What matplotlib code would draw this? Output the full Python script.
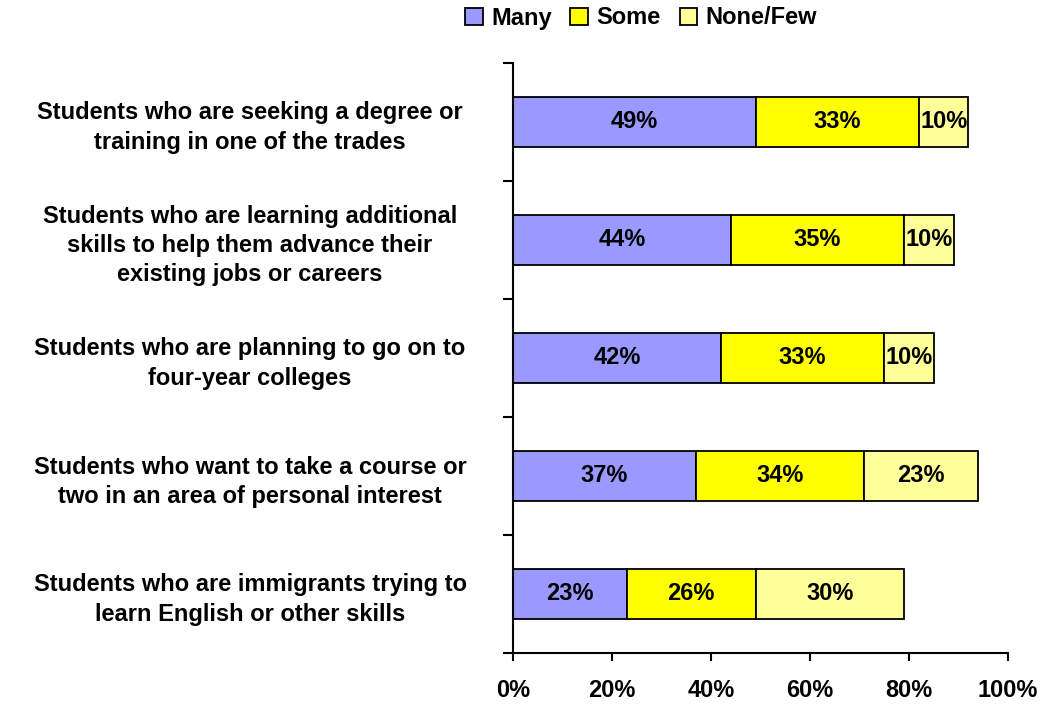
import matplotlib
matplotlib.use("Agg")
import matplotlib.pyplot as plt
from matplotlib.ticker import FuncFormatter, MultipleLocator

plt.rcParams['font.family'] = ['Liberation Sans', 'DejaVu Sans']
plt.rcParams['font.weight'] = 'bold'

categories = [
    "Students who are seeking a degree or\ntraining in one of the trades",
    "Students who are learning additional\nskills to help them advance their\nexisting jobs or careers",
    "Students who are planning to go on to\nfour-year colleges",
    "Students who want to take a course or\ntwo in an area of personal interest",
    "Students who are immigrants trying to\nlearn English or other skills",
]
many = [49, 44, 42, 37, 23]
some = [33, 35, 33, 34, 26]
none_few = [10, 10, 10, 23, 30]

series = [("Many", many, "#9999FF"), ("Some", some, "#FFFF00"), ("None/Few", none_few, "#FFFF99")]

FS = 17

fig = plt.figure(figsize=(10.44, 7.07), dpi=100)
ax = fig.add_axes([513 / 1044, 1 - 653 / 707, 495 / 1044, 590 / 707])

n = len(categories)
ypos = list(range(n))
left = [0] * n
for name, vals, color in series:
    ax.barh(ypos, vals, left=left, height=0.42, color=color, edgecolor="black",
            linewidth=1.3, label=name)
    for y, l, v in zip(ypos, left, vals):
        ax.text(l + v / 2, y, f"{v}%", ha="center", va="center",
                fontsize=FS, fontweight="bold")
    left = [a + b for a, b in zip(left, vals)]

ax.set_xlim(0, 100)
ax.set_ylim(n - 0.5, -0.5)
ax.xaxis.set_major_locator(MultipleLocator(20))
ax.xaxis.set_major_formatter(FuncFormatter(lambda v, p: f"{int(v)}%"))
ax.set_yticks(ypos)
ax.set_yticklabels(categories, fontsize=FS, fontweight="bold", ha="center",
                   linespacing=1.35)
ax.set_yticks([i - 0.5 for i in range(n + 1)], minor=True)
ax.tick_params(axis="y", which="major", length=0, pad=(513 - 250) * 0.72)
ax.tick_params(axis="y", which="minor", length=7, width=1.5, direction="out")
ax.tick_params(axis="x", length=6, width=1.5, direction="out", labelsize=FS, pad=13)
for lab in ax.get_xticklabels():
    lab.set_fontweight("bold")

for s in ["top", "right"]:
    ax.spines[s].set_visible(False)
for s in ["left", "bottom"]:
    ax.spines[s].set_linewidth(1.5)

leg = fig.legend(loc="center", bbox_to_anchor=(641 / 1044, 1 - 18 / 707), ncol=3,
                 frameon=False, handlelength=0.75, handleheight=0.75, handletextpad=0.35,
                 columnspacing=0.8, borderpad=0,
                 prop={"weight": "bold", "size": FS})

fig.savefig("out.png", dpi=100)
